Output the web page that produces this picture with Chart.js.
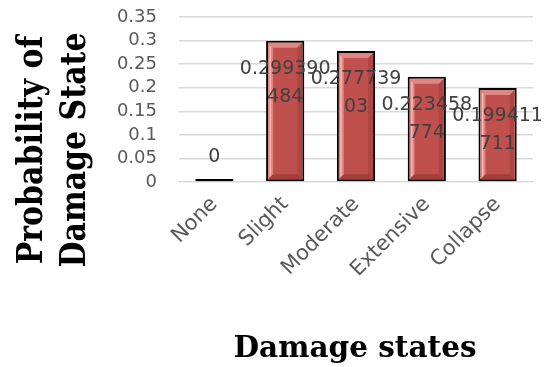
<!DOCTYPE html>
<html>
<head>
<meta charset="utf-8">
<script src="https://cdn.jsdelivr.net/npm/chart.js@4.4.1/dist/chart.umd.min.js"></script>
<style>
  html, body { margin: 0; padding: 0; background: #ffffff; }
  #wrap { width: 554px; height: 367px; position: relative; }
</style>
</head>
<body>
<div id="wrap"><canvas id="chart" width="554" height="367"></canvas></div>
<script>
// Damage states and the probability of each one
const categories = ['None', 'Slight', 'Moderate', 'Extensive', 'Collapse'];
const probabilities = [0, 0.299390484, 0.27773903, 0.223458774, 0.199411711];

// Value axis range
const yMin = 0;
const yMax = 0.35;
const yStep = 0.05;

// Axis titles
const xTitle = 'Damage states';
const yTitleLines = ['Probability of', 'Damage State'];

// Data labels: long values wrap after eight characters
const valueLabels = probabilities.map(v => {
  const s = String(v);
  return s.length > 8 ? [s.slice(0, 8), s.slice(8)] : [s];
});

// Bevelled edges drawn inside each bar
const barBevel = {
  id: 'barBevel',
  afterDatasetsDraw(chart) {
    const ctx = chart.ctx;
    chart.getDatasetMeta(0).data.forEach(bar => {
      const { x, y, base, width } = bar.getProps(['x', 'y', 'base', 'width'], true);
      const L = x - width / 2 + 2, R = x + width / 2 - 2;
      const T = Math.min(y, base) + 2, B = Math.max(y, base) - 2;
      if (B - T < 14) return;
      const b = 5;
      const poly = (pts, fill) => {
        ctx.beginPath();
        ctx.moveTo(pts[0][0], pts[0][1]);
        for (let k = 1; k < pts.length; k++) ctx.lineTo(pts[k][0], pts[k][1]);
        ctx.closePath();
        ctx.fillStyle = fill;
        ctx.fill();
      };
      ctx.save();
      poly([[L, T], [R, T], [R - b, T + b], [L + b, T + b]], 'rgba(255,190,185,0.5)');
      poly([[L, T], [L + b, T + b], [L + b, B - b], [L, B]], 'rgba(255,170,165,0.55)');
      poly([[R, T], [R, B], [R - b, B - b], [R - b, T + b]], 'rgba(90,20,20,0.18)');
      poly([[L, B], [L + b, B - b], [R - b, B - b], [R, B]], 'rgba(90,20,20,0.30)');
      // bright streak along the left bevel
      ctx.fillStyle = 'rgba(255,225,220,0.6)';
      ctx.fillRect(L + 1.5, T + 3, 1.5, B - T - 6);
      ctx.restore();
    });
  }
};

// Value labels near the top of each bar
const valueText = {
  id: 'valueText',
  afterDatasetsDraw(chart) {
    const ctx = chart.ctx;
    ctx.save();
    ctx.font = '19px "DejaVu Sans"';
    ctx.fillStyle = '#404040';
    ctx.textAlign = 'center';
    ctx.textBaseline = 'middle';
    chart.getDatasetMeta(0).data.forEach((bar, i) => {
      const { x, base } = bar.getProps(['x', 'base'], true);
      const lines = valueLabels[i];
      const yAt = chart.scales.y.getPixelForValue(probabilities[i]);
      const first = (base - yAt) < 20 ? base - 24 : yAt + 28;
      lines.forEach((ln, k) => ctx.fillText(ln, x, first + k * 28));
    });
    ctx.restore();
  }
};

// Axis titles in a bold serif face
const axisTitles = {
  id: 'axisTitles',
  afterDraw(chart) {
    const ctx = chart.ctx;
    ctx.save();
    ctx.fillStyle = '#000000';
    ctx.font = 'bold 29.5px "DejaVu Serif"';
    ctx.textAlign = 'center';
    ctx.textBaseline = 'alphabetic';
    ctx.fillText(xTitle, 355, 357);

    ctx.font = 'bold 30px "DejaVu Serif"';
    ctx.translate(0, 150);
    ctx.scale(1.2, 1);
    ctx.rotate(-Math.PI / 2);
    ctx.fillText(yTitleLines[0], 0, 35);
    ctx.fillText(yTitleLines[1], 0, 71);
    ctx.restore();
  }
};

new Chart(document.getElementById('chart'), {
  type: 'bar',
  data: {
    labels: categories,
    datasets: [{
      data: probabilities,
      backgroundColor: '#c0504d',
      borderColor: '#000000',
      borderWidth: 2,
      borderSkipped: false,
      minBarLength: 3,
      barPercentage: 0.54,
      categoryPercentage: 1.0
    }]
  },
  options: {
    responsive: false,
    animation: false,
    devicePixelRatio: 1,
    layout: { padding: { left: 112, right: 21, top: 17, bottom: 75 } },
    plugins: {
      legend: { display: false },
      tooltip: { enabled: false },
      title: { display: false }
    },
    scales: {
      x: {
        grid: { display: false, drawTicks: false },
        border: { display: false },
        ticks: {
          color: '#595959',
          font: { family: 'DejaVu Sans', size: 21 },
          minRotation: 45,
          maxRotation: 45,
          padding: 10
        },
        afterFit(scale) {
          scale.height = 110;
          scale.paddingLeft = 0;
          scale.paddingRight = 0;
        }
      },
      y: {
        min: yMin,
        max: yMax,
        grid: { color: '#d9d9d9', lineWidth: 1.5, drawTicks: false },
        border: { display: false },
        ticks: {
          stepSize: yStep,
          autoSkip: false,
          color: '#595959',
          font: { family: 'DejaVu Sans', size: 18 },
          padding: 22,
          callback: v => String(parseFloat(Number(v).toFixed(2)))
        },
        afterFit(scale) {
          scale.width = 67;
          scale.paddingTop = 0;
          scale.paddingBottom = 0;
        }
      }
    }
  },
  plugins: [barBevel, valueText, axisTitles]
});
</script>
</body>
</html>
